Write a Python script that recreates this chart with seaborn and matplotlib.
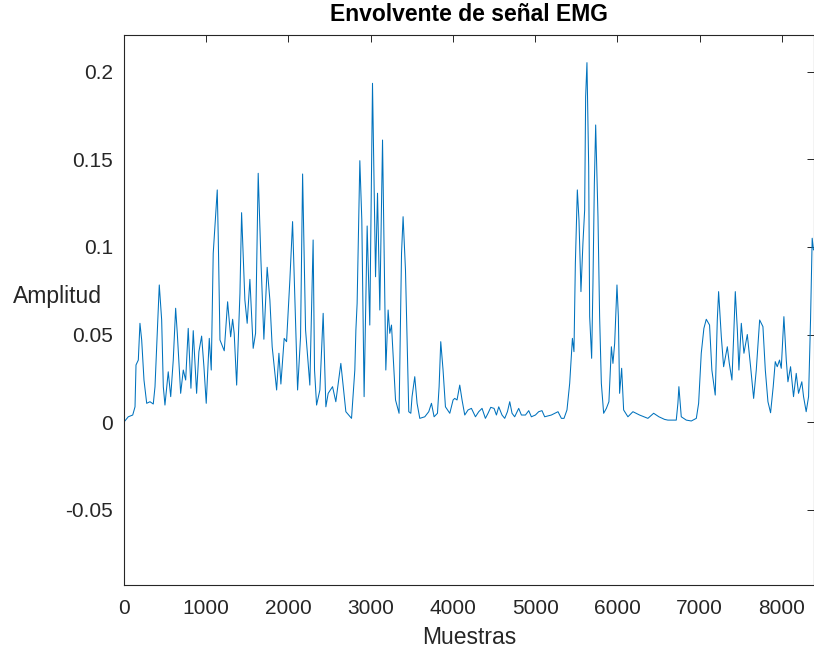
import matplotlib
matplotlib.use("Agg")
import matplotlib.pyplot as plt
import seaborn as sns
import pandas as pd

# Envelope samples (sample index, amplitude)
muestras = [
    0, 52, 106, 134, 146, 174, 194, 215, 243, 276, 316, 356, 377, 397, 429, 458, 478, 498,
    538, 568, 599, 628, 648, 689, 721, 750, 781, 814, 842, 883, 911, 944, 972, 1000, 1037,
    1061, 1085, 1134, 1146, 1167, 1219, 1260, 1297, 1321, 1340, 1370, 1410, 1430, 1470,
    1498, 1531, 1571, 1600, 1632, 1665, 1701, 1741, 1774, 1802, 1856, 1884, 1908, 1948,
    1977, 2017, 2050, 2078, 2111, 2147, 2172, 2208, 2260, 2300, 2317, 2342, 2382, 2422,
    2455, 2483, 2536, 2576, 2637, 2698, 2767, 2807, 2820, 2835, 2868, 2892, 2920, 2957,
    2989, 3022, 3059, 3083, 3111, 3144, 3184, 3212, 3232, 3253, 3302, 3345, 3375, 3394,
    3423, 3463, 3488, 3503, 3536, 3564, 3597, 3658, 3706, 3739, 3771, 3812, 3832, 3852,
    3880, 3909, 3962, 4002, 4022, 4050, 4083, 4111, 4144, 4184, 4225, 4274, 4314, 4354,
    4395, 4427, 4460, 4500, 4529, 4557, 4597, 4630, 4663, 4691, 4719, 4751, 4800, 4833,
    4882, 4922, 4954, 5003, 5043, 5083, 5116, 5197, 5278, 5319, 5351, 5387, 5420, 5453,
    5472, 5489, 5513, 5533, 5557, 5581, 5602, 5614, 5630, 5651, 5663, 5687, 5703, 5720,
    5736, 5764, 5784, 5805, 5833, 5866, 5897, 5927, 5946, 5967, 5995, 6012, 6027, 6052,
    6076, 6128, 6189, 6270, 6371, 6441, 6505, 6574, 6614, 6716, 6736, 6748, 6777, 6838,
    6899, 6960, 6988, 7020, 7052, 7081, 7121, 7149, 7190, 7215, 7231, 7264, 7292, 7337,
    7361, 7393, 7414, 7434, 7459, 7478, 7507, 7539, 7580, 7620, 7657, 7689, 7730, 7770,
    7799, 7831, 7863, 7895, 7920, 7944, 7972, 7993, 8025, 8054, 8074, 8106, 8142, 8175,
    8203, 8243, 8264, 8296, 8325, 8349, 8369, 8385,
]
amplitud = [
    0.0000, 0.0030, 0.0040, 0.0087, 0.0326, 0.0354, 0.0564, 0.0469, 0.0240, 0.0107, 0.0116,
    0.0103, 0.0202, 0.0430, 0.0783, 0.0583, 0.0202, 0.0097, 0.0287, 0.0145, 0.0354, 0.0650,
    0.0507, 0.0164, 0.0297, 0.0240, 0.0535, 0.0193, 0.0522, 0.0164, 0.0402, 0.0491, 0.0316,
    0.0107, 0.0478, 0.0297, 0.0964, 0.1326, 0.1059, 0.0469, 0.0407, 0.0687, 0.0487, 0.0587,
    0.0507, 0.0211, 0.0735, 0.1196, 0.0697, 0.0564, 0.0815, 0.0421, 0.0507, 0.1421, 0.0926,
    0.0473, 0.0884, 0.0697, 0.0430, 0.0183, 0.0393, 0.0217, 0.0478, 0.0459, 0.0811, 0.1145,
    0.0697, 0.0183, 0.0487, 0.1417, 0.0526, 0.0211, 0.1040, 0.0297, 0.0097, 0.0183, 0.0621,
    0.0087, 0.0164, 0.0202, 0.0116, 0.0335, 0.0059, 0.0021, 0.0297, 0.0526, 0.0678, 0.1493,
    0.1154, 0.0145, 0.1120, 0.0554, 0.1935, 0.0830, 0.1307, 0.0640, 0.1611, 0.0297, 0.0640,
    0.0507, 0.0554, 0.0126, 0.0050, 0.0964, 0.1173, 0.0869, 0.0059, 0.0050, 0.0145, 0.0259,
    0.0107, 0.0021, 0.0030, 0.0059, 0.0107, 0.0030, 0.0050, 0.0202, 0.0459, 0.0297, 0.0087,
    0.0050, 0.0126, 0.0135, 0.0126, 0.0211, 0.0126, 0.0040, 0.0069, 0.0078, 0.0030, 0.0059,
    0.0078, 0.0021, 0.0050, 0.0084, 0.0078, 0.0040, 0.0087, 0.0040, 0.0021, 0.0059, 0.0116,
    0.0050, 0.0030, 0.0078, 0.0040, 0.0040, 0.0065, 0.0030, 0.0040, 0.0059, 0.0065, 0.0030,
    0.0040, 0.0059, 0.0021, 0.0021, 0.0069, 0.0221, 0.0478, 0.0402, 0.0907, 0.1326, 0.1154,
    0.0745, 0.1021, 0.1211, 0.1859, 0.2053, 0.1459, 0.0602, 0.0364, 0.0793, 0.1364, 0.1697,
    0.1173, 0.0602, 0.0221, 0.0050, 0.0078, 0.0116, 0.0430, 0.0335, 0.0450, 0.0783, 0.0602,
    0.0164, 0.0307, 0.0069, 0.0030, 0.0059, 0.0040, 0.0021, 0.0050, 0.0030, 0.0015, 0.0011,
    0.0011, 0.0107, 0.0202, 0.0030, 0.0011, 0.0006, 0.0021, 0.0107, 0.0393, 0.0535, 0.0587,
    0.0554, 0.0297, 0.0154, 0.0583, 0.0745, 0.0487, 0.0316, 0.0430, 0.0335, 0.0240, 0.0487,
    0.0745, 0.0526, 0.0297, 0.0564, 0.0393, 0.0500, 0.0316, 0.0135, 0.0297, 0.0583, 0.0545,
    0.0297, 0.0116, 0.0053, 0.0202, 0.0345, 0.0316, 0.0354, 0.0307, 0.0602, 0.0354, 0.0230,
    0.0316, 0.0145, 0.0278, 0.0164, 0.0230, 0.0145, 0.0059, 0.0145, 0.0583, 0.1050, 0.0983,
]

x_ticks = [0, 1000, 2000, 3000, 4000, 5000, 6000, 7000, 8000]
x_tick_labels = ["0", "1000", "2000", "3000", "4000", "5000", "6000", "7000", "8000"]
y_ticks = [-0.05, 0, 0.05, 0.1, 0.15, 0.2]
y_tick_labels = ["-0.05", "0", "0.05", "0.1", "0.15", "0.2"]

titulo = "Envolvente de señal EMG"
etiqueta_x = "Muestras"
etiqueta_y = "Amplitud"

sns.set_style("white")
plt.rcParams["font.family"] = ["Liberation Sans", "DejaVu Sans"]
plt.rcParams["axes.unicode_minus"] = False

df = pd.DataFrame({"Muestras": muestras, "Amplitud": amplitud})

fig = plt.figure(figsize=(8.14, 6.53), dpi=100)
ax = fig.add_axes([124 / 814, 68 / 653, 689.5 / 814, 550 / 653])

sns.lineplot(data=df, x="Muestras", y="Amplitud", ax=ax, color="#0072BD",
             linewidth=0.75, estimator=None, sort=False,
             solid_joinstyle="round", solid_capstyle="round")

ax.set_xlim(0, 8385)
ax.set_ylim(-0.0931, 0.2211)
ax.set_xticks(x_ticks)
ax.set_xticklabels(x_tick_labels)
ax.set_yticks(y_ticks)
ax.set_yticklabels(y_tick_labels)

text_col = "#262626"
for s in ax.spines.values():
    s.set_visible(True)
    s.set_color(text_col)
    s.set_linewidth(0.8)

ax.tick_params(axis="both", which="both", direction="in", length=5, width=0.7,
               colors=text_col, labelsize=15, top=True, right=True, pad=8)
ax.tick_params(axis="x", pad=10)

ax.set_title(titulo, fontsize=16.5, fontweight="bold", color="black", pad=10)
ax.set_xlabel(etiqueta_x, fontsize=16.5, color=text_col, labelpad=6)
ax.set_ylabel(etiqueta_y, fontsize=16.5, color=text_col, rotation=0, ha="right", va="center")
ax.yaxis.set_label_coords(-0.032, 0.524)
ax.grid(False)

fig.savefig("out.png", dpi=100)
